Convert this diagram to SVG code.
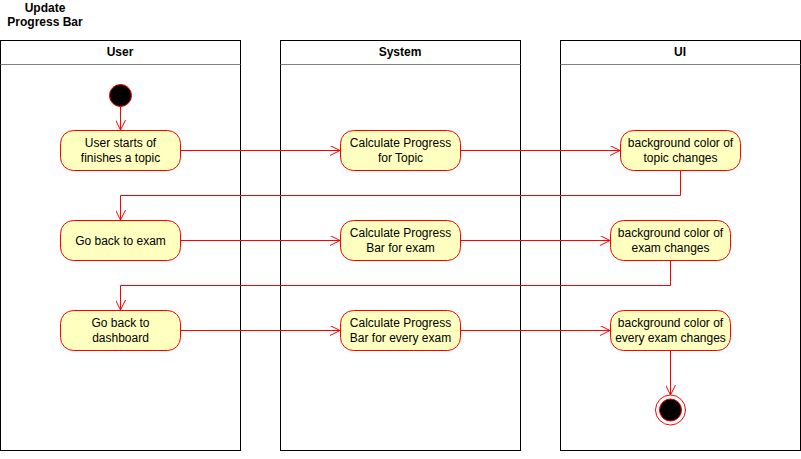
<svg xmlns="http://www.w3.org/2000/svg" width="801" height="459" viewBox="0 0 801 459">
<defs>
<style>
text{font-family:"Liberation Sans",Arial,sans-serif;font-size:12px;fill:#000;text-anchor:middle}
.b{font-weight:bold}
.lane{fill:#fff;stroke:#000;stroke-width:1}
.sep{stroke:#808080;stroke-width:1}
.act{fill:#ffffc0;stroke:#ff0000;stroke-width:1}
.c{fill:none;stroke:#ff0000;stroke-width:1}
</style>
<marker id="arr" viewBox="0 0 10 10" refX="10" refY="5" markerWidth="10" markerHeight="10" markerUnits="userSpaceOnUse" orient="auto">
<path d="M0,0 L10,5 L0,10" fill="none" stroke="#ff0000" stroke-width="1"/>
</marker>
</defs>
<rect width="801" height="459" fill="#fff"/>
<text class="b" x="45" y="12">Update</text>
<text class="b" x="45" y="26">Progress Bar</text>
<g id="lane-user">
<rect class="lane" x="0.5" y="40.5" width="240" height="410"/>
<line class="sep" x1="0.5" y1="64.5" x2="240.5" y2="64.5"/>
<text class="b" x="120" y="56">User</text>
</g>
<g id="lane-system">
<rect class="lane" x="280.5" y="40.5" width="240" height="410"/>
<line class="sep" x1="280.5" y1="64.5" x2="520.5" y2="64.5"/>
<text class="b" x="400" y="56">System</text>
</g>
<g id="lane-ui">
<rect class="lane" x="560.5" y="40.5" width="240" height="410"/>
<line class="sep" x1="560.5" y1="64.5" x2="800.5" y2="64.5"/>
<text class="b" x="680" y="56">UI</text>
</g>
<g id="connectors">
<path class="c" d="M120.5,106 V130" marker-end="url(#arr)"/>
<path class="c" d="M180,150.5 H340" marker-end="url(#arr)"/>
<path class="c" d="M460,150.5 H620" marker-end="url(#arr)"/>
<path class="c" d="M680.5,170 V195.5 H120.5 V220" marker-end="url(#arr)"/>
<path class="c" d="M180,240.5 H340" marker-end="url(#arr)"/>
<path class="c" d="M460,240.5 H610" marker-end="url(#arr)"/>
<path class="c" d="M670.5,260 V285.5 H120.5 V310" marker-end="url(#arr)"/>
<path class="c" d="M180,330.5 H340" marker-end="url(#arr)"/>
<path class="c" d="M460,330.5 H610" marker-end="url(#arr)"/>
<path class="c" d="M670.5,350 V395" marker-end="url(#arr)"/>
</g>
<g id="start">
<circle cx="120.5" cy="95.5" r="11" fill="#000" stroke="#ff0000"/>
</g>
<g id="user-starts">
<rect class="act" x="60.5" y="130.5" width="120" height="40" rx="13"/>
<text x="120.5" y="147">User starts of</text>
<text x="120.5" y="162">finishes a topic</text>
</g>
<g id="calc-topic">
<rect class="act" x="340.5" y="130.5" width="120" height="40" rx="13"/>
<text x="400.5" y="147">Calculate Progress</text>
<text x="400.5" y="162">for Topic</text>
</g>
<g id="topic-changes">
<rect class="act" x="620.5" y="130.5" width="120" height="40" rx="13"/>
<text x="680.5" y="147">background color of</text>
<text x="680.5" y="162">topic changes</text>
</g>
<g id="back-exam">
<rect class="act" x="60.5" y="220.5" width="120" height="40" rx="13"/>
<text x="120.5" y="245">Go back to exam</text>
</g>
<g id="calc-exam">
<rect class="act" x="340.5" y="220.5" width="120" height="40" rx="13"/>
<text x="400.5" y="237">Calculate Progress</text>
<text x="400.5" y="252">Bar for exam</text>
</g>
<g id="exam-changes">
<rect class="act" x="610.5" y="220.5" width="120" height="40" rx="13"/>
<text x="670.5" y="237">background color of</text>
<text x="670.5" y="252">exam changes</text>
</g>
<g id="back-dashboard">
<rect class="act" x="60.5" y="310.5" width="120" height="40" rx="13"/>
<text x="120.5" y="327">Go back to</text>
<text x="120.5" y="342">dashboard</text>
</g>
<g id="calc-every">
<rect class="act" x="340.5" y="310.5" width="120" height="40" rx="13"/>
<text x="400.5" y="327">Calculate Progress</text>
<text x="400.5" y="342">Bar for every exam</text>
</g>
<g id="every-changes">
<rect class="act" x="610.5" y="310.5" width="120" height="40" rx="13"/>
<text x="670.5" y="327">background color of</text>
<text x="670.5" y="342">every exam changes</text>
</g>
<g id="end">
<circle cx="670.5" cy="410" r="15" fill="#fff" stroke="#ff0000"/>
<circle cx="670.5" cy="410" r="11" fill="#000" stroke="#ff0000"/>
</g>
</svg>
